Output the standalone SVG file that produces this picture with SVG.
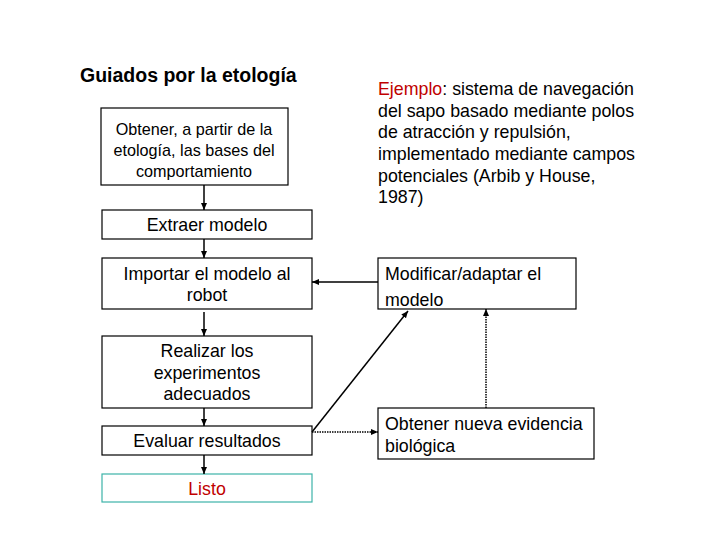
<svg xmlns="http://www.w3.org/2000/svg" width="720" height="540" viewBox="0 0 720 540">
<style>
rect{fill:#fff;stroke:#000;stroke-width:1.2}
text{font-family:"Liberation Sans",Arial,sans-serif;font-size:17.8px;fill:#000}
.c{text-anchor:middle}
.s{font-size:16.2px}
.ln{stroke:#000;stroke-width:1.5;fill:none}
.dot{stroke:#000;stroke-width:1.5;stroke-dasharray:1.5 1;fill:none}
</style>
<defs><marker id="a" markerWidth="8" markerHeight="8" refX="7" refY="4" orient="auto" markerUnits="userSpaceOnUse"><path d="M0,1 L7,4 L0,7z" fill="#000"/></marker></defs>
<rect width="720" height="540" style="stroke:none"/>
<text x="80" y="82" style="font-weight:bold;font-size:19.5px">Guiados por la etología</text>
<g id="n1"><rect x="101" y="108" width="187" height="77"/><text class="c s" x="194" y="135">Obtener, a partir de la</text><text class="c s" x="194" y="156">etología, las bases del</text><text class="c s" x="194" y="177">comportamiento</text></g>
<g id="n2"><rect x="102" y="210" width="210" height="29"/><text class="c" x="207" y="231">Extraer modelo</text></g>
<g id="n3"><rect x="102" y="258" width="210" height="51"/><text class="c" x="207" y="280">Importar el modelo al</text><text class="c" x="207" y="301">robot</text></g>
<g id="n4"><rect x="102" y="336" width="210" height="72"/><text class="c" x="207" y="357">Realizar los</text><text class="c" x="207" y="379">experimentos</text><text class="c" x="207" y="400">adecuados</text></g>
<g id="n5"><rect x="102" y="426" width="210" height="29"/><text class="c" x="207" y="447">Evaluar resultados</text></g>
<g id="n6"><rect x="102" y="474" width="210" height="28" style="stroke:#3cb3a8"/><text class="c" x="207" y="495" style="fill:#c00000">Listo</text></g>
<g id="n7"><text x="378" y="95"><tspan fill="#c00000">Ejemplo</tspan>: sistema de navegación</text><text x="378" y="117">del sapo basado mediante polos</text><text x="378" y="138">de atracción y repulsión,</text><text x="378" y="160">implementado mediante campos</text><text x="378" y="182">potenciales (Arbib y House,</text><text x="378" y="203">1987)</text></g>
<g id="n8"><rect x="378" y="258" width="198" height="51"/><text x="385" y="280">Modificar/adaptar el</text><text x="385" y="306">modelo</text></g>
<g id="n9"><rect x="378" y="408" width="216" height="51"/><text x="385" y="430">Obtener nueva evidencia</text><text x="385" y="452">biológica</text></g>
<g id="connectors">
<line class="ln" x1="204" y1="185" x2="204" y2="210" marker-end="url(#a)"/>
<line class="ln" x1="204" y1="239" x2="204" y2="258" marker-end="url(#a)"/>
<line class="ln" x1="204" y1="312" x2="204" y2="336" marker-end="url(#a)"/>
<line class="ln" x1="204" y1="408" x2="204" y2="426" marker-end="url(#a)"/>
<line class="ln" x1="204" y1="455" x2="204" y2="474" marker-end="url(#a)"/>
<line class="ln" x1="378" y1="282" x2="312" y2="282" marker-end="url(#a)"/>
<line class="ln" x1="312" y1="432" x2="408" y2="311" marker-end="url(#a)"/>
<line class="dot" x1="312" y1="432" x2="378" y2="432" marker-end="url(#a)"/>
<line class="dot" x1="486" y1="408" x2="486" y2="309" marker-end="url(#a)"/>
</g>
</svg>
